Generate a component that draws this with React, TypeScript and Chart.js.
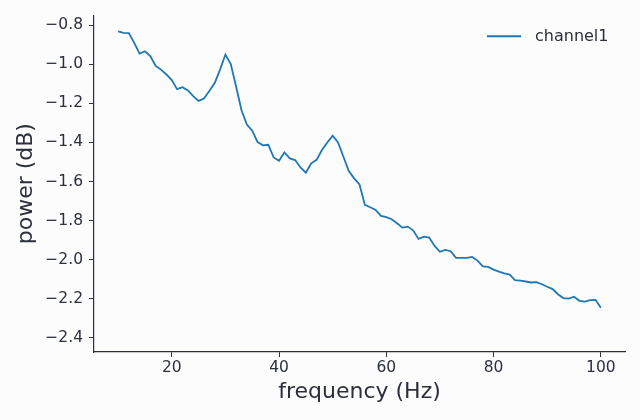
import React, { useEffect, useRef } from "react";
import { Chart, registerables } from "chart.js";

Chart.register(...registerables);

const freqs: number[] = [
  10, 11, 12, 13, 14, 15, 16, 17, 18, 19, 20, 21, 22, 23, 24, 25, 26, 27, 28, 29,
  30, 31, 32, 33, 34, 35, 36, 37, 38, 39, 40, 41, 42, 43, 44, 45, 46, 47, 48, 49,
  50, 51, 52, 53, 54, 55, 56, 57, 58, 59, 60, 61, 62, 63, 64, 65, 66, 67, 68, 69,
  70, 71, 72, 73, 74, 75, 76, 77, 78, 79, 80, 81, 82, 83, 84, 85, 86, 87, 88, 89,
  90, 91, 92, 93, 94, 95, 96, 97, 98, 99, 100,
];

const power: number[] = [
  -0.831, -0.839, -0.84, -0.89, -0.945, -0.933, -0.958, -1.008, -1.027, -1.052,
  -1.081, -1.127, -1.117, -1.134, -1.163, -1.187, -1.175, -1.137, -1.096, -1.027,
  -0.95, -0.999, -1.115, -1.235, -1.308, -1.34, -1.398, -1.415, -1.412, -1.477,
  -1.494, -1.451, -1.482, -1.49, -1.528, -1.555, -1.507, -1.489, -1.439, -1.4,
  -1.366, -1.4, -1.473, -1.546, -1.584, -1.615, -1.72, -1.732, -1.746, -1.776,
  -1.782, -1.793, -1.814, -1.836, -1.831, -1.85, -1.894, -1.882, -1.887, -1.93,
  -1.96, -1.95, -1.957, -1.991, -1.991, -1.991, -1.986, -2.005, -2.035, -2.037,
  -2.051, -2.061, -2.07, -2.077, -2.105, -2.107, -2.112, -2.117, -2.115, -2.126,
  -2.139, -2.151, -2.177, -2.197, -2.2, -2.19, -2.211, -2.215, -2.207, -2.206,
  -2.247,
];

const xTicks: number[] = [20, 40, 60, 80, 100];
const yTicks: number[] = [-2.4, -2.2, -2.0, -1.8, -1.6, -1.4, -1.2, -1.0, -0.8];
const seriesName = "channel1";

const LINE = "#1f77b4";
const TEXT = "#2b303b";
const AXIS = "#2b303b";
const BG = "#fcfcfd";
const FONT = "'DejaVu Sans', sans-serif";

const fmt = (v: number) => v.toFixed(1).replace("-", "\u2212");

export default function App() {
  const ref = useRef<HTMLCanvasElement | null>(null);

  useEffect(() => {
    if (!ref.current) return;
    const bgPlugin = {
      id: "bg",
      beforeDraw(chart: any) {
        const c = chart.ctx;
        c.save();
        c.fillStyle = BG;
        c.fillRect(0, 0, chart.width, chart.height);
        c.restore();
      },
    };
    const legendPlugin = {
      id: "mplLegend",
      afterDraw(chart: any) {
        const c = chart.ctx;
        const a = chart.chartArea;
        const y = a.top + 21;
        const x0 = a.right - 138;
        c.save();
        c.strokeStyle = LINE;
        c.lineWidth = 2;
        c.beginPath();
        c.moveTo(x0, y);
        c.lineTo(x0 + 34, y);
        c.stroke();
        c.fillStyle = TEXT;
        c.font = `16px ${FONT}`;
        c.textBaseline = "middle";
        c.textAlign = "left";
        c.fillText(seriesName, x0 + 48, y + 1);
        c.restore();
      },
    };
    const chart = new Chart(ref.current, {
      type: "line",
      data: {
        datasets: [
          {
            label: seriesName,
            data: freqs.map((f, i) => ({ x: f, y: power[i] })),
            borderColor: LINE,
            backgroundColor: LINE,
            borderWidth: 1.8,
            pointRadius: 0,
            tension: 0,
          },
        ],
      },
      options: {
        responsive: false,
        animation: false,
        devicePixelRatio: 1,
        layout: { padding: { top: 15, right: 15, left: 0, bottom: 0 } },
        plugins: {
          legend: { display: false },
          tooltip: { enabled: false },
        },
        scales: {
          x: {
            type: "linear",
            min: 5.5,
            max: 104.5,
            afterBuildTicks: (s: any) => {
              s.ticks = xTicks.map((v) => ({ value: v }));
            },
            afterFit: (s: any) => {
              s.height = 68;
            },
            grid: {
              drawOnChartArea: false,
              drawTicks: true,
              tickLength: 5,
              tickColor: AXIS,
              tickWidth: 1,
            },
            border: { display: true, color: AXIS, width: 1.2 },
            ticks: {
              color: TEXT,
              font: { family: FONT, size: 15.5 },
              padding: 2,
              maxRotation: 0,
              callback: (v: any) => String(v),
            },
            title: {
              display: true,
              text: "frequency (Hz)",
              color: TEXT,
              font: { family: FONT, size: 22 },
              padding: { top: 0, bottom: 14.8 },
            },
          },
          y: {
            type: "linear",
            min: -2.473,
            max: -0.749,
            afterBuildTicks: (s: any) => {
              s.ticks = yTicks.map((v) => ({ value: v }));
            },
            afterFit: (s: any) => {
              s.width = 94;
            },
            grid: {
              drawOnChartArea: false,
              drawTicks: true,
              tickLength: 5,
              tickColor: AXIS,
              tickWidth: 1,
            },
            border: { display: true, color: AXIS, width: 1.2 },
            ticks: {
              color: TEXT,
              font: { family: FONT, size: 15.5 },
              padding: 6,
              callback: (v: any) => fmt(Number(v)),
            },
            title: {
              display: true,
              text: "power (dB)",
              color: TEXT,
              font: { family: FONT, size: 22 },
              padding: { top: 12.8, bottom: 0 },
            },
          },
        },
      },
      plugins: [bgPlugin, legendPlugin],
    });
    return () => chart.destroy();
  }, []);

  return (
    <div
      style={{
        position: "absolute",
        left: 0,
        top: 0,
        width: 640,
        height: 420,
        background: BG,
      }}
    >
      <canvas ref={ref} width={640} height={420} style={{ display: "block" }} />
    </div>
  );
}
